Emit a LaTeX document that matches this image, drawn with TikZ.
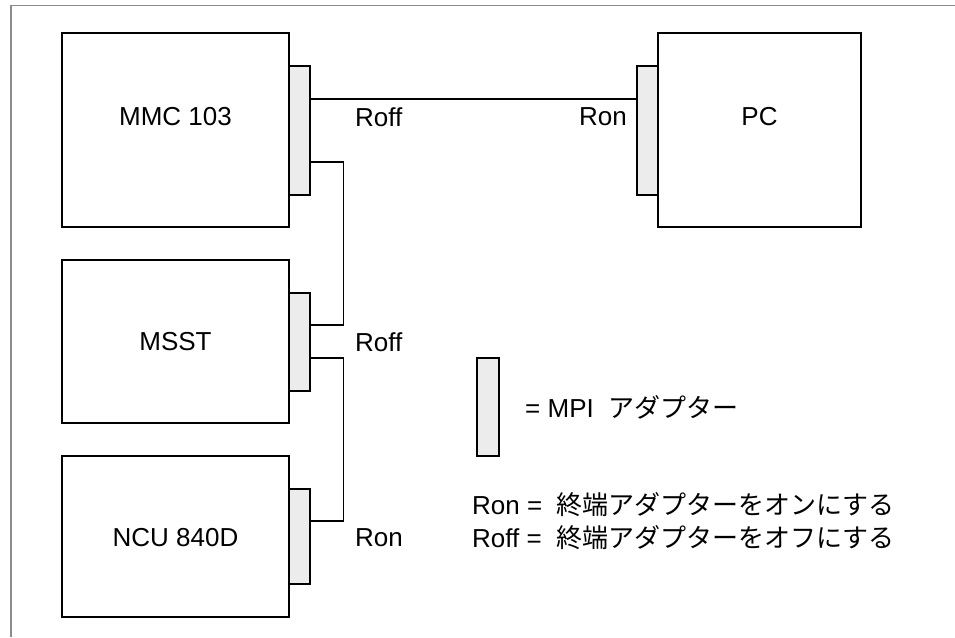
\documentclass[tikz,border=0pt]{standalone}
\usepackage{fontspec}
\setmainfont{Liberation Sans}
\newfontfamily\jpfont{Noto Sans CJK JP}
\usetikzlibrary{positioning}

\begin{document}
\begin{tikzpicture}[x=1pt,y=-1pt,
  font=\fontsize{26}{33}\selectfont,
  unit/.style={draw,line width=1.3pt,inner sep=0pt},
  adapter/.style={draw,line width=1.3pt,fill=gray!15,inner sep=0pt,
    minimum width=21pt},
  tag/.style={inner sep=0pt},
  cable/.style={line width=1.3pt},
  frame/.style={gray!90,line width=1.2pt}]

\useasboundingbox (0,0) rectangle (955,637);

% Page frame (top and left only).
\draw[frame] (11,637) -- (11,5.5) -- (955,5.5);

% Units.
\node[unit,minimum width=227pt,minimum height=194pt] (mmc) at (175.5,130) {};
\node[unit,minimum width=203pt,minimum height=194pt] (pc) at (759.5,130) {};
\node[unit,minimum width=227pt,minimum height=163pt] (msst) at (175.5,341.5) {};
\node[unit,minimum width=227pt,minimum height=161pt] (ncu) at (175.5,536.5) {};

\node[tag] (mmcT) at ([yshift=13pt]mmc.center) {MMC 103};
\node[tag] (pcT) at ([yshift=13pt]pc.center) {PC};
\node[tag] (msstT) at (msst.center) {MSST};
\node[tag] (ncuT) at ([yshift=-1.5pt]ncu.center) {NCU 840D};

% MPI adapters.
\node[adapter,minimum height=129pt] (mmcA) at (299.5,130.5) {};
\node[adapter,minimum height=129pt] (pcA) at (647.5,130.5) {};
\node[adapter,minimum height=98pt] (msstA) at (299.5,342) {};
\node[adapter,minimum height=95pt] (ncuA) at (299.5,536.5) {};

% Cable ends.
\coordinate (mmcOut) at ([yshift=31.5pt]mmcA.east);
\coordinate (pcIn) at ([yshift=31.5pt]pcA.west);
\coordinate (mmcDown) at ([yshift=-31.5pt]mmcA.east);
\coordinate (msstIn) at ([yshift=17pt]msstA.east);
\coordinate (msstOut) at ([yshift=-16pt]msstA.east);
\coordinate (ncuIn) at ([yshift=15.5pt]ncuA.east);

\draw[cable] (mmcOut) -- (pcIn);
\draw[cable] (mmcDown) -- ++(33,0) |- (msstIn);
\draw[cable] (msstOut) -- ++(33,0) |- (ncuIn);

% Terminator states.
\node[tag,anchor=west] (mmcR) at (355,117) {Roff};
\node[tag,anchor=east] (pcR) at (627,117) {Ron};
\node[tag,anchor=west] (msstR) at (355,342) {Roff};
\node[tag,anchor=west] (ncuR) at (355,538) {Ron};

% Legend.
\node[adapter,minimum width=22pt,minimum height=98pt] (keyA) at (488,407) {};
\node[tag,anchor=west] (keyT) at (525,407) {= MPI\ \ {\jpfont アダプター}};
\node[tag,anchor=west,align=left] (keyR) at (472,521.5)
  {Ron = \hspace{7pt}{\jpfont 終端アダプターをオンにする}\\
   Roff = \hspace{7pt}{\jpfont 終端アダプターをオフにする}};

\end{tikzpicture}
\end{document}
